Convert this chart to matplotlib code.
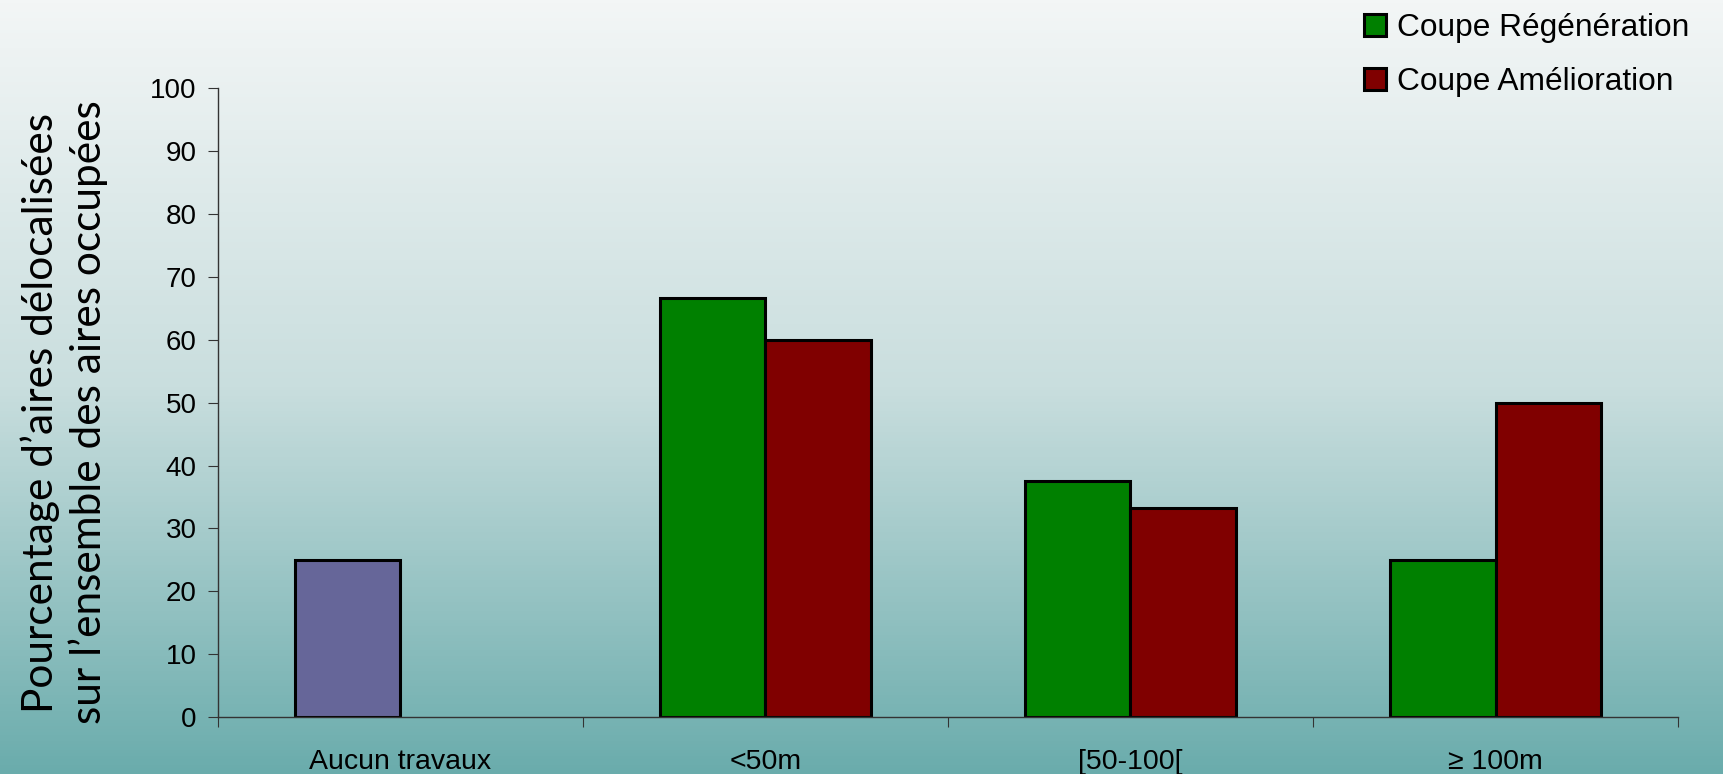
import matplotlib
matplotlib.use('Agg')
import matplotlib.pyplot as plt
import numpy as np
from matplotlib.colors import LinearSegmentedColormap

categories = ['Aucun travaux', '<50m', '[50-100[', '≥ 100m']
aucun = [25, None, None, None]
regeneration = [None, 66.7, 37.5, 25]
amelioration = [None, 60, 33.3, 50]
legend_labels = ['Coupe Régénération', 'Coupe Amélioration']

fig = plt.figure(figsize=(17.23, 7.74), dpi=100)

# fond dégradé
bg = fig.add_axes([0, 0, 1, 1], zorder=-10)
cmap = LinearSegmentedColormap.from_list('bg', ['#f3f6f6', '#c9dede', '#6aacac'])
grad = np.linspace(0, 1, 256).reshape(-1, 1)
bg.imshow(grad, aspect='auto', cmap=cmap, extent=[0, 1, 0, 1], origin='upper')
bg.axis('off')

ax = fig.add_axes([0.1263, 0.0736, 0.8477, 0.8121])
ax.patch.set_alpha(0)

x = np.arange(len(categories))
w = 0.289

def vals(s):
    return [np.nan if v is None else v for v in s]

ax.bar(x - w / 2, vals(aucun), w, color='#666699', edgecolor='black', linewidth=2.2)
b1 = ax.bar(x - w / 2, vals(regeneration), w, color='#008000', edgecolor='black',
            linewidth=2.2, label=legend_labels[0])
b2 = ax.bar(x + w / 2, vals(amelioration), w, color='#800000', edgecolor='black',
            linewidth=2.2, label=legend_labels[1])

ax.set_xlim(-0.5, len(categories) - 0.5)
ax.set_ylim(0, 100)
ax.set_yticks(range(0, 101, 10))
ax.tick_params(axis='y', labelsize=20, length=7, color='#333333', pad=8)
ax.set_xticks(np.arange(-0.5, len(categories), 1.0))
ax.set_xticklabels([])
ax.set_xticks(x, minor=True)
ax.set_xticklabels(categories, minor=True, fontsize=20.5, fontfamily='Liberation Sans')
ax.tick_params(axis='x', which='major', length=7, color='#333333')
ax.tick_params(axis='x', which='minor', length=0, pad=23)
for lbl in ax.get_yticklabels():
    lbl.set_fontfamily('Liberation Sans')

for s in ['top', 'right']:
    ax.spines[s].set_visible(False)
for s in ['left', 'bottom']:
    ax.spines[s].set_color('#333333')
    ax.spines[s].set_linewidth(1.0)

fig.text(0.037, 0.467, "Pourcentage d\u2019aires délocalisées\nsur l\u2019ensemble des aires occupées",
         rotation=90, ha='center', va='center', fontsize=30.5, fontfamily='Lato',
         color='black', linespacing=1.25)

leg = fig.legend(handles=[b1, b2], labels=legend_labels, loc='upper right',
                 bbox_to_anchor=(0.997, 1.02), frameon=False,
                 prop={'family': 'Liberation Sans', 'size': 22.8},
                 handlelength=0.7, handleheight=0.7, handletextpad=0.35, labelspacing=0.75)

fig.savefig('out.png', dpi=100)
